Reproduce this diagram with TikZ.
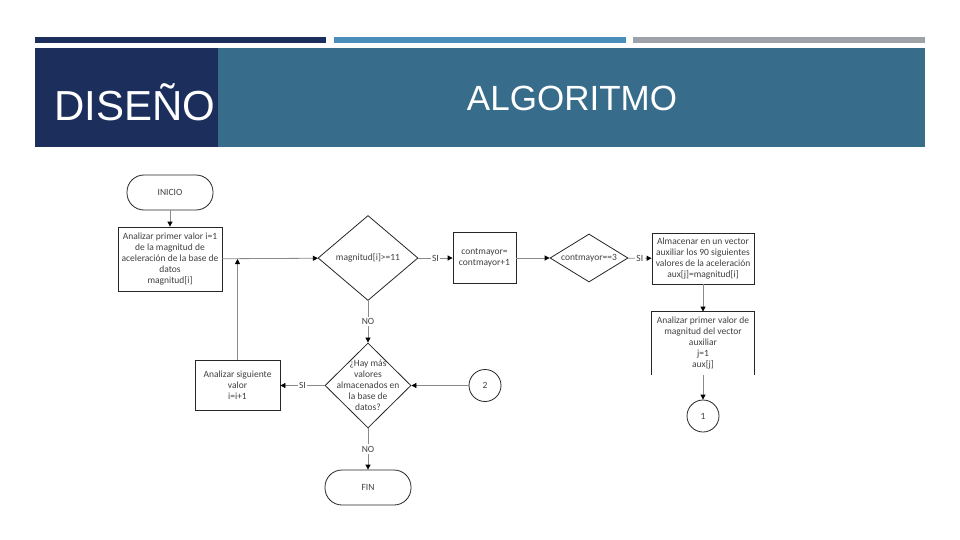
\documentclass[tikz,border=0pt]{standalone}
\usepackage{fontspec}
\setmainfont{Liberation Sans}
\newfontfamily\flowfont{Carlito}
\usetikzlibrary{shapes.geometric,arrows.meta}

\definecolor{navy}{HTML}{1C2F5C}
\definecolor{steel}{HTML}{376C8B}
\definecolor{barblue}{HTML}{4A8FBA}
\definecolor{bargray}{HTML}{9DA2A9}
\definecolor{ink}{HTML}{404040}
\definecolor{linegray}{HTML}{8A8A8A}

\tikzset{
  flowtxt/.style={font=\flowfont\fontsize{9.5}{11}\selectfont, text=ink},
  proc/.style={flowtxt, draw=black!85, line width=0.8pt, rectangle, align=center, inner sep=1pt},
  term/.style={flowtxt, draw=black!85, line width=0.8pt, rounded corners=17pt, minimum width=86pt, minimum height=35pt},
  decision/.style={draw=black!85, line width=0.8pt, diamond, inner sep=0pt},
  dtext/.style={flowtxt, align=center},
  conn/.style={flowtxt, draw=black!85, line width=0.8pt, circle, minimum size=32pt, inner sep=0pt},
  flow/.style={draw=linegray, line width=0.8pt, -{Triangle[length=5pt,width=5pt,color=black]}},
  lbl/.style={flowtxt, fill=white, inner sep=1.5pt}
}

\begin{document}
\begin{tikzpicture}[x=1pt,y=-1pt]
  \useasboundingbox[fill=white] (0,0) rectangle (960,540);

  % top bars
  \fill[navy] (35,37) rectangle (326,43);
  \fill[barblue] (334,37) rectangle (626,43);
  \fill[bargray] (633,37) rectangle (925,43);

  % header
  \fill[navy] (35,48) rectangle (218,147);
  \fill[steel] (218,48) rectangle (925,147);
  \node[anchor=base west, text=white, font=\fontsize{42}{42}\selectfont, inner sep=0pt] (titulo) at (54,121) {DISEÑO};
  \node[anchor=base, text=white, font=\fontsize{35}{35}\selectfont, inner sep=0pt] (subtitulo) at (572,111) {ALGORITMO};

  % left column
  \node[term] (inicio) at (170,192.5) {INICIO};
  \node[proc, minimum width=104pt, minimum height=64pt] (primer) at (170,259)
    {Analizar primer valor i=1\\de la magnitud de\\aceleración de la base de\\datos\\magnitud[i]};

  % first decision
  \node[decision, minimum width=100pt, minimum height=85pt] (umbral) at (368,258) {};
  \node[dtext] at (umbral) {magnitud[i]>=11};

  \node[proc, minimum width=63pt, minimum height=51pt] (suma) at (484.5,258)
    {contmayor=\\contmayor+1};

  \node[decision, minimum width=78pt, minimum height=48pt] (tres) at (589,258) {};
  \node[dtext] at (tres) {contmayor==3};

  % right column
  \node[proc, minimum width=102pt, minimum height=51pt, inner sep=0pt] (guardar) at (703,258.5)
    {Almacenar en un vector\\auxiliar los 90 siguientes\\valores de la aceleración\\aux[j]=magnitud[i]};
  \node[proc, draw=none, minimum width=102pt, minimum height=63pt] (auxiliar) at (703,343.5)
    {Analizar primer valor de\\magnitud del vector\\auxiliar\\j=1\\aux[j]};
  \draw[black!85, line width=0.8pt] (auxiliar.south west) -- (auxiliar.north west)
    -- (auxiliar.north east) -- (auxiliar.south east);
  \node[conn] (uno) at (703,416) {1};

  % second decision
  \node[decision, minimum width=86pt, minimum height=85pt] (mas) at (368,385.5) {};
  \node[dtext] at (mas) {¿Hay más\\valores\\almacenados en\\la base de\\datos?};
  \node[conn] (dos) at (485,385.5) {2};
  \node[proc, minimum width=85pt, minimum height=50pt] (siguiente) at (237.5,385.5)
    {Analizar siguiente\\valor\\i=i+1};
  \node[term] (fin) at (368,487.5) {FIN};

  \coordinate (retorno) at (siguiente.north |- primer.east);

  % connectors
  \draw[flow] (inicio) -- (primer);
  \draw[flow] (primer) -- (umbral);
  \draw[flow] (umbral) -- node[lbl] {SI} (suma);
  \draw[flow] (suma) -- (tres);
  \draw[flow] (tres) -- node[lbl] {SI} (guardar);
  \draw[flow] (guardar) -- (auxiliar);
  \draw[flow] (auxiliar.south) -- (uno);
  \draw[flow] (umbral) -- node[lbl] {NO} (mas);
  \draw[flow] (dos) -- (mas);
  \draw[flow] (mas) -- node[lbl] {SI} (siguiente);
  \draw[flow] (siguiente) -- (retorno);
  \draw[flow] (mas) -- node[lbl] {NO} (fin);
\end{tikzpicture}
\end{document}
